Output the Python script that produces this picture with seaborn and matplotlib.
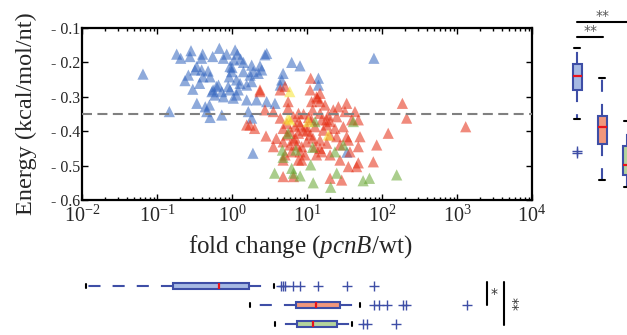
import matplotlib
matplotlib.use("Agg")
import matplotlib.pyplot as plt
import seaborn as sns
import pandas as pd
from matplotlib.ticker import LogLocator, NullFormatter

sns.set_style("ticks")

plt.rcParams["font.family"] = ["Liberation Serif", "DejaVu Serif"]
plt.rcParams["mathtext.fontset"] = "custom"
plt.rcParams["mathtext.rm"] = "Liberation Serif"
plt.rcParams["mathtext.it"] = "Liberation Serif:italic"

# scatter data: fold change (pcnB/wt) and energy (kcal/mol/nt)
blue_fold = [0.065, 0.146, 0.183, 0.207, 0.284, 0.275, 0.406, 0.394, 0.553, 0.678,
             0.766, 0.85, 1.10, 1.18, 1.06, 1.42, 1.83, 2.36, 2.90, 2.75,
             6.25, 8.07, 0.338, 0.32, 0.262, 0.236, 0.394, 0.41, 0.51, 0.37,
             0.30, 0.56, 0.66, 0.73, 0.89, 0.94, 0.99, 0.92, 1.15, 1.28,
             1.42, 1.74, 1.92, 2.24, 2.49, 1.83, 1.57, 1.21, 0.94, 0.77,
             1.04, 1.15, 1.57, 2.13, 0.59, 0.54, 0.34, 0.44, 0.50, 0.46,
             0.51, 0.73, 1.65, 1.83, 2.90, 3.74, 4.6, 4.8, 14.2, 14.2,
             4.4, 1.9, 78, 34, 0.62, 1.0, 0.48, 1.3]
blue_energy = [-0.234, -0.343, -0.176, -0.188, -0.166, -0.183, -0.176, -0.188, -0.183, -0.159,
               -0.188, -0.176, -0.164, -0.176, -0.193, -0.200, -0.208, -0.210, -0.174, -0.178,
               -0.200, -0.210, -0.212, -0.222, -0.237, -0.253, -0.222, -0.242, -0.242, -0.261,
               -0.278, -0.280, -0.266, -0.285, -0.270, -0.212, -0.227, -0.242, -0.251, -0.261,
               -0.227, -0.237, -0.227, -0.232, -0.222, -0.256, -0.266, -0.280, -0.280, -0.300,
               -0.304, -0.295, -0.309, -0.309, -0.295, -0.285, -0.319, -0.329, -0.324, -0.343,
               -0.360, -0.353, -0.343, -0.362, -0.314, -0.319, -0.251, -0.232, -0.246, -0.266,
               -0.266, -0.464, -0.188, -0.461, -0.270, -0.215, -0.225, -0.190]

red_fold = [11.2, 5.1, 2.36, 11.5, 13.7, 14.9, 5.6, 5.6, 2.75, 7.7,
            6.6, 7.7, 8.1, 6.9, 5.4, 4.8, 1.74, 2.0, 2.84, 3.9,
            5.4, 6.6, 7.7, 8.9, 9.9, 11.5, 11.9, 14.9, 15.7, 18.3,
            16.5, 19.2, 20.3, 26.2, 24.9, 33.8, 32.1, 43.6, 48.3, 39.4,
            30.5, 23.6, 33.8, 35.6, 24.9, 20.3, 18.3, 14.9, 12.8, 9.9,
            8.5, 7.3, 5.9, 6.2, 8.1, 7.7, 8.5, 4.8, 15.7, 20.3,
            27.5, 35.6, 45.9, 48.3, 48.3, 50.9, 85, 76.6, 121, 187,
            213, 20.3, 29, 6.6, 4.4, 11, 13.4, 14.9, 18.3, 4.8,
            9.4, 13.4, 14.9, 27.5, 37.4, 11, 12.8, 17.4, 22.4, 1306,
            2.36, 3.56, 4.4, 1.57, 3.56, 5.1, 4.8, 10.5, 9.0, 6.0,
            10, 12, 7]
red_energy = [-0.246, -0.270, -0.285, -0.314, -0.304, -0.314, -0.314, -0.333, -0.338, -0.348,
              -0.358, -0.372, -0.382, -0.387, -0.377, -0.392, -0.382, -0.392, -0.414, -0.421,
              -0.411, -0.426, -0.406, -0.397, -0.387, -0.367, -0.338, -0.348, -0.367, -0.382,
              -0.397, -0.353, -0.372, -0.329, -0.358, -0.319, -0.343, -0.343, -0.367, -0.367,
              -0.387, -0.392, -0.416, -0.426, -0.416, -0.411, -0.435, -0.426, -0.445, -0.431,
              -0.445, -0.440, -0.440, -0.460, -0.460, -0.484, -0.484, -0.484, -0.460, -0.469,
              -0.484, -0.503, -0.503, -0.492, -0.445, -0.416, -0.440, -0.489, -0.406, -0.319,
              -0.362, -0.537, -0.542, -0.532, -0.362, -0.280, -0.300, -0.290, -0.367, -0.431,
              -0.469, -0.469, -0.450, -0.440, -0.460, -0.411, -0.387, -0.324, -0.338, -0.387,
              -0.280, -0.343, -0.280, -0.382, -0.445, -0.469, -0.532, -0.360, -0.350, -0.400,
              -0.400, -0.420, -0.420]

green_fold = [12.8, 5.6, 4.7, 4.8, 7.1, 11.9, 3.7, 6.25, 8.1, 11.2,
              12.1, 20.7, 24.9, 56, 68, 157, 23.6, 30.5, 41.5, 6.6]
green_energy = [-0.372, -0.406, -0.455, -0.476, -0.455, -0.447, -0.522, -0.508, -0.530, -0.498,
                -0.550, -0.563, -0.522, -0.544, -0.537, -0.527, -0.460, -0.440, -0.372, -0.522]

yellow_fold = [5.9, 5.6, 5.9, 10.4, 19.2]
yellow_energy = [-0.285, -0.362, -0.367, -0.372, -0.411]

colors = {"blue": "#3264be", "red": "#e52a10", "green": "#64a42e", "yellow": "#f6e42e"}
face = {"blue": "#a6b9e3", "red": "#f1977c", "green": "#b5d49c"}

# box statistics
box_energy = [
    dict(whislo=-0.365, q1=-0.280, med=-0.2395, q3=-0.2055, whishi=-0.159, fliers=[-0.458, -0.464]),
    dict(whislo=-0.542, q1=-0.438, med=-0.387, q3=-0.355, whishi=-0.246, fliers=[]),
    dict(whislo=-0.563, q1=-0.527, med=-0.497, q3=-0.442, whishi=-0.370, fliers=[]),
]
box_fold = [
    dict(whislo=0.0113, q1=0.162, med=0.671, q3=1.69, whishi=3.63,
         fliers=[4.46, 4.79, 5.09, 6.44, 8.07, 14.0, 34.1, 78.2]),
    dict(whislo=1.74, q1=7.06, med=13.1, q3=27.5, whishi=50.9,
         fliers=[78.2, 91.2, 116, 191, 209, 1346]),
    dict(whislo=3.74, q1=7.29, med=12.0, q3=25.1, whishi=39.8,
         fliers=[55.8, 63.1, 152]),
]

df = pd.DataFrame({
    "fold": blue_fold + red_fold + green_fold + yellow_fold,
    "energy": blue_energy + red_energy + green_energy + yellow_energy,
    "group": ["blue"] * len(blue_fold) + ["red"] * len(red_fold)
             + ["green"] * len(green_fold) + ["yellow"] * len(yellow_fold),
})

W, H = 627, 335
fig = plt.figure(figsize=(W / 100, H / 100), dpi=100)

# main scatter
ax = fig.add_axes([82 / W, 1 - 200 / H, 450 / W, 172 / H])
sns.scatterplot(data=df, x="fold", y="energy", hue="group", palette=colors,
                marker="^", s=65, alpha=0.55, linewidth=0, legend=False, ax=ax)
ax.set_xscale("log")
ax.set_xlim(1e-2, 1e4)
ax.set_ylim(-0.6, -0.1)
ax.axhline(-0.35, color="#808080", lw=1.5, ls=(0, (4.8, 2.6)), zorder=3)

ax.xaxis.set_major_locator(LogLocator(base=10, numticks=10))
ax.xaxis.set_minor_locator(LogLocator(base=10, subs=range(2, 10), numticks=100))
ax.xaxis.set_minor_formatter(NullFormatter())
ax.set_yticks([-0.6, -0.5, -0.4, -0.3, -0.2, -0.1])
ax.set_yticklabels(["- 0.6", "- 0.5", "- 0.4", "- 0.3", "- 0.2", "- 0.1"])
ax.tick_params(which="both", direction="in", top=True, right=True, width=1, color="k")
ax.tick_params(which="major", length=4)
ax.tick_params(which="minor", length=2.5)
ax.tick_params(axis="x", labelsize=14.5, pad=4)
ax.tick_params(axis="y", labelsize=11.5, pad=1)
for sp in ax.spines.values():
    sp.set_linewidth(1.6)
    sp.set_color("k")

ax.set_xlabel("fold change ($\\mathit{pcnB}$/wt)", fontsize=18, labelpad=1)
ax.xaxis.set_label_coords(0.485, -0.19)
ax.set_ylabel("Energy (kcal/mol/nt)", fontsize=17.5)
ax.yaxis.set_label_coords(-0.1, 0.5)

edge = "#3e4ea6"
common = dict(patch_artist=True, manage_ticks=False,
              boxprops=dict(edgecolor=edge, linewidth=1.5),
              whiskerprops=dict(color=edge, linewidth=1.5, linestyle=(0, (5.8, 5.8))),
              capprops=dict(color="k", linewidth=1.5),
              medianprops=dict(color="#e8141c", linewidth=1.6),
              flierprops=dict(marker="+", markeredgecolor=edge, markersize=7, markeredgewidth=1))

# right panel: energy per group
axr = fig.add_axes([565 / W, 1 - 200 / H, 100 / W, 172 / H])
br = axr.bxp(box_energy, positions=[1, 2, 3], widths=0.36, capwidths=0.24, **common)
axr.set_xlim(0.52, 4.52)
axr.set_ylim(-0.6, -0.1)
axr.axis("off")
axr.plot([1, 3], [-0.0826, -0.0826], color="k", lw=1.5, clip_on=False)
axr.text(2.04, -0.064, "**", ha="center", va="center", fontsize=10, color="#555555",
         family="DejaVu Sans")
axr.plot([1, 2.03], [-0.126, -0.126], color="k", lw=1.5, clip_on=False)
axr.text(1.55, -0.110, "**", ha="center", va="center", fontsize=10, color="#555555",
         family="DejaVu Sans")

# bottom panel: fold change per group
axb = fig.add_axes([82 / W, 0, 450 / W, 59 / H])
bb = axb.bxp(box_fold, positions=[1, 2, 3], widths=0.35, capwidths=0.2,
             orientation="horizontal", **common)
axb.set_xscale("log")
axb.set_xlim(1e-2, 1e4)
axb.set_ylim(3.579, 0.474)
axb.axis("off")
axb.plot([2535, 2535], [0.774, 2.0], color="k", lw=1.5, clip_on=False)
axb.plot([4236, 4236], [0.774, 3.05], color="k", lw=1.5, clip_on=False)
axb.text(3113, 1.42, "*", ha="center", va="center", fontsize=10, color="#333333",
         family="DejaVu Sans")
axb.text(5360, 1.95, "**", ha="center", va="center", fontsize=10, color="#333333",
         rotation=270, family="DejaVu Sans")

for res in (br, bb):
    for patch, g in zip(res["boxes"], ["blue", "red", "green"]):
        patch.set_facecolor(face[g])

fig.savefig("out.png", dpi=100)
